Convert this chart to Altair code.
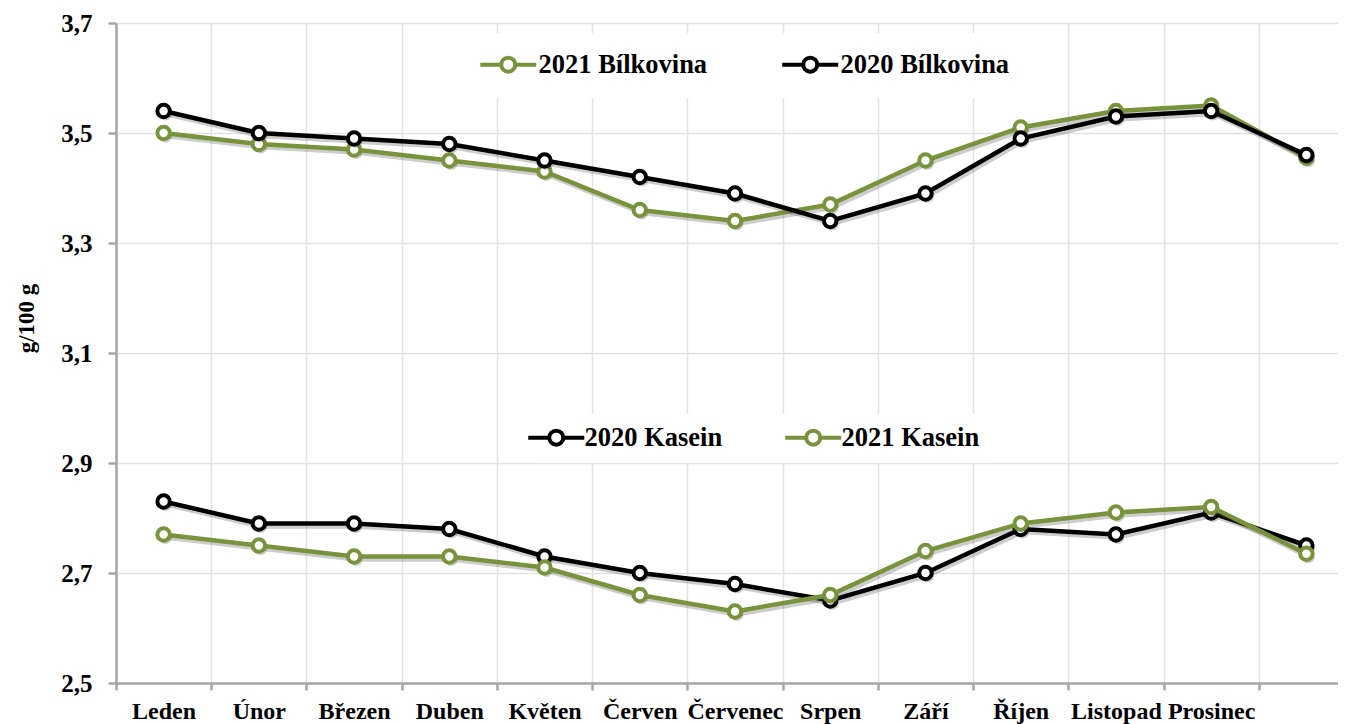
import altair as alt
import pandas as pd

# ---- data ----
mesice = ["Leden", "Únor", "Březen", "Duben", "Květen", "Červen", "Červenec",
          "Srpen", "Září", "Říjen", "Listopad", "Prosinec", " "]
bilkovina_2021 = [3.50, 3.48, 3.47, 3.45, 3.43, 3.36, 3.34, 3.37, 3.45, 3.51, 3.54, 3.55, 3.455]
bilkovina_2020 = [3.54, 3.50, 3.49, 3.48, 3.45, 3.42, 3.39, 3.34, 3.39, 3.49, 3.53, 3.54, 3.46]
kasein_2020 = [2.83, 2.79, 2.79, 2.78, 2.73, 2.70, 2.68, 2.65, 2.70, 2.78, 2.77, 2.81, 2.75]
kasein_2021 = [2.77, 2.75, 2.73, 2.73, 2.71, 2.66, 2.63, 2.66, 2.74, 2.79, 2.81, 2.82, 2.735]

serie_bilkovina = ["2021 Bílkovina", "2020 Bílkovina"]
serie_kasein = ["2020 Kasein", "2021 Kasein"]
barvy_bilkovina = ["#77933c", "#000000"]
barvy_kasein = ["#000000", "#77933c"]
y_ticks = [2.5, 2.7, 2.9, 3.1, 3.3, 3.5, 3.7]

rows = []
for name, vals in [("2021 Bílkovina", bilkovina_2021), ("2020 Bílkovina", bilkovina_2020),
                   ("2020 Kasein", kasein_2020), ("2021 Kasein", kasein_2021)]:
    for m, v in zip(mesice, vals):
        rows.append({"mesic": m, "hodnota": v, "serie": name})
df = pd.DataFrame(rows)

FONT = "Liberation Serif"
GRID = "#e2e2e2"
AXC = "#a6a6a6"

x_enc = alt.X(
    "mesic:N", sort=mesice,
    scale=alt.Scale(paddingInner=0, paddingOuter=0, range=[0, 1238]),
    axis=alt.Axis(title=None, values=mesice[:12], tickBand="extent", grid=True,
                  gridColor=GRID, gridWidth=1.5,
                  domainColor=AXC, domainWidth=2.5, tickColor=AXC, tickWidth=2.5, tickSize=7,
                  labelAngle=0, labelFont=FONT, labelFontSize=24, labelFontWeight="bold",
                  labelColor="black", labelPadding=9, labelOverlap=False),
)
y_enc = alt.Y(
    "hodnota:Q",
    scale=alt.Scale(domain=[2.5, 3.7], nice=False, zero=False),
    axis=alt.Axis(values=y_ticks, labelExpr="replace(format(datum.value, '.1f'), '.', ',')",
                  title="g/100 g", titleFont=FONT, titleFontSize=23, titleFontWeight="bold",
                  titleColor="black", titleAngle=270, titleX=-90, titleY=295,
                  titleAlign="center", titleBaseline="middle",
                  grid=True, gridColor=GRID, gridWidth=1.5,
                  domainColor=AXC, domainWidth=2.5, tickColor=AXC, tickWidth=2.5, tickSize=8,
                  labelFont=FONT, labelFontSize=25, labelFontWeight="bold", labelColor="black",
                  labelPadding=16),
)

SYMBOL = "M-4,0L-1,0M1,0L4,0M-1,0A1,1,0,1,1,1,0A1,1,0,1,1,-1,0Z"


def make_legend(x, y, pad, label_offset, col_pad):
    return alt.Legend(title=None, orient="none", legendX=x, legendY=y, direction="horizontal",
                      fillColor="white", padding=pad, symbolType=SYMBOL, symbolSize=196,
                      symbolStrokeWidth=4, symbolFillColor="white", symbolOpacity=1,
                      labelFont=FONT, labelFontSize=26.5, labelFontWeight="bold",
                      labelColor="black", labelOffset=label_offset, columnPadding=col_pad,
                      labelLimit=0)


def group(series, colors, legend):
    stroke = alt.Stroke("serie:N", scale=alt.Scale(domain=series, range=colors), legend=legend)
    layers = []
    for s in series:
        base = alt.Chart(df).transform_filter(alt.datum.serie == s)
        layers.append(base.mark_line(strokeWidth=4.5, color="#5a5a5a", opacity=0.3,
                                     xOffset=2, yOffset=3).encode(x=x_enc, y=y_enc))
        layers.append(base.mark_point(filled=True, size=170, color="#5a5a5a", opacity=0.3,
                                      xOffset=2, yOffset=3).encode(x=x_enc, y=y_enc))
        layers.append(base.mark_line(strokeWidth=4.5).encode(x=x_enc, y=y_enc, stroke=stroke))
        layers.append(base.mark_point(filled=True, fill="white", size=155, strokeWidth=4,
                                      opacity=1).encode(x=x_enc, y=y_enc, stroke=stroke))
    return alt.layer(*layers)


bil = group(serie_bilkovina, barvy_bilkovina, make_legend(361, 10, 18, 17, 66))
kas = group(serie_kasein, barvy_kasein, make_legend(417, 391, 10, 15, 54))

chart = (
    alt.layer(bil, kas)
    .resolve_scale(stroke="independent")
    .resolve_legend(stroke="independent")
    .properties(width=1222, height=660,
                autosize=alt.AutoSizeParams(type="none"),
                padding={"left": 108, "top": 15, "right": 0, "bottom": 41})
    .configure_view(stroke="transparent", strokeWidth=0)
    .configure(font=FONT)
)

chart.save("out.html", embed_options={"renderer": "svg", "actions": False})
